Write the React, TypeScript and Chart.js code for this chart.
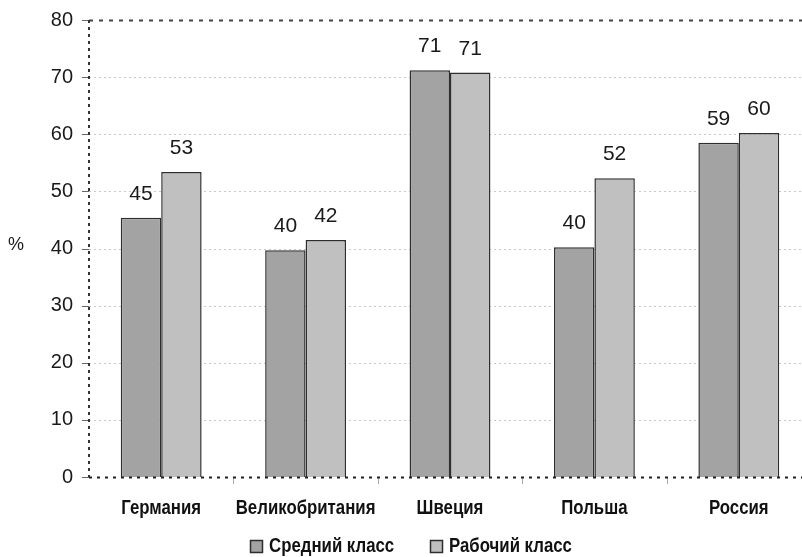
import React, { useEffect, useRef } from 'react';
import { Chart, registerables } from 'chart.js';

Chart.register(...registerables);

const categories = ['Германия', 'Великобритания', 'Швеция', 'Польша', 'Россия'];
const seriesNames = ['Средний класс', 'Рабочий класс'];
const middleClass = [45.4, 39.7, 71.2, 40.2, 58.5];
const workingClass = [53.4, 41.5, 70.8, 52.3, 60.2];
const yMin = 0;
const yMax = 80;
const yStep = 10;
const yAxisTitle = '%';

const DARK = '#a3a3a3';
const LIGHT = '#c0c0c0';
const EDGE = '#2e2e2e';
const SANS = "'Liberation Sans', Arial, sans-serif";
const CONDENSE = 0.8;

function drawCondensed(ctx: any, text: string, x: number, y: number, align: 'left' | 'center') {
  ctx.save();
  ctx.translate(x, y);
  ctx.scale(CONDENSE, 1);
  ctx.textAlign = align;
  ctx.fillText(text, 0, 0);
  ctx.restore();
}

const decorPlugin = {
  id: 'decor',
  beforeDatasetsDraw(chart: any) {
    const { ctx, chartArea } = chart;
    const y = chart.scales.y;
    const x = chart.scales.x;
    ctx.save();
    ctx.lineWidth = 1;
    ctx.strokeStyle = '#c9c9c9';
    ctx.setLineDash([2, 3]);
    for (let v = yMin + yStep; v < yMax; v += yStep) {
      const py = Math.round(y.getPixelForValue(v)) + 0.5;
      ctx.beginPath();
      ctx.moveTo(chartArea.left, py);
      ctx.lineTo(chartArea.right, py);
      ctx.stroke();
    }
    ctx.setLineDash([]);
    ctx.strokeStyle = '#666';
    ctx.lineWidth = 1;
    for (let v = yMin; v <= yMax; v += yStep) {
      const py = Math.round(y.getPixelForValue(v)) + 0.5;
      ctx.beginPath();
      ctx.moveTo(chartArea.left - 7, py);
      ctx.lineTo(chartArea.left, py);
      ctx.stroke();
    }
    ctx.strokeStyle = '#aaa';
    for (let i = 1; i < categories.length; i++) {
      const px = Math.round((x.getPixelForValue(i - 1) + x.getPixelForValue(i)) / 2) + 0.5;
      ctx.beginPath();
      ctx.moveTo(px, chartArea.bottom);
      ctx.lineTo(px, chartArea.bottom + 7);
      ctx.stroke();
    }
    const top = Math.round(y.getPixelForValue(yMax)) + 0.5;
    ctx.strokeStyle = '#444';
    ctx.lineWidth = 2;
    ctx.setLineDash([4, 6]);
    ctx.beginPath();
    ctx.moveTo(chartArea.left, top);
    ctx.lineTo(chartArea.right, top);
    ctx.stroke();
    ctx.setLineDash([3, 4]);
    ctx.strokeStyle = '#333';
    ctx.beginPath();
    ctx.moveTo(chartArea.left, chartArea.top);
    ctx.lineTo(chartArea.left, chartArea.bottom);
    ctx.stroke();
    ctx.restore();
  },
  afterDatasetsDraw(chart: any) {
    const { ctx, chartArea } = chart;
    const y = chart.scales.y;
    const x = chart.scales.x;
    ctx.save();
    const bottom = Math.round(y.getPixelForValue(yMin)) + 0.5;
    ctx.strokeStyle = '#222';
    ctx.lineWidth = 2;
    ctx.setLineDash([3, 5]);
    ctx.beginPath();
    ctx.moveTo(chartArea.left, bottom);
    ctx.lineTo(chartArea.right, bottom);
    ctx.stroke();
    ctx.setLineDash([]);
    // value labels
    ctx.fillStyle = '#1a1a1a';
    ctx.font = `21px ${SANS}`;
    ctx.textAlign = 'center';
    ctx.textBaseline = 'alphabetic';
    chart.data.datasets.forEach((ds: any, di: number) => {
      const meta = chart.getDatasetMeta(di);
      meta.data.forEach((bar: any, i: number) => {
        ctx.fillText(String(Math.round(ds.data[i])), bar.x, bar.y - 18);
      });
    });
    // category labels (condensed bold)
    ctx.fillStyle = '#111';
    ctx.font = `bold 21px ${SANS}`;
    ctx.textBaseline = 'middle';
    categories.forEach((c, i) => {
      drawCondensed(ctx, c, x.getPixelForValue(i), 508, 'center');
    });
    // y axis title
    ctx.fillStyle = '#1a1a1a';
    ctx.font = `18px ${SANS}`;
    ctx.textAlign = 'left';
    ctx.textBaseline = 'middle';
    ctx.fillText(yAxisTitle, 8, 245);
    // legend
    const colors = [DARK, LIGHT];
    const starts = [250, 430];
    ctx.font = `bold 21px ${SANS}`;
    ctx.textBaseline = 'middle';
    seriesNames.forEach((name, i) => {
      const bx = starts[i];
      const cy = 546;
      ctx.fillStyle = colors[i];
      ctx.fillRect(bx + 0.5, cy - 6 + 0.5, 12, 12);
      ctx.strokeStyle = EDGE;
      ctx.lineWidth = 1.5;
      ctx.strokeRect(bx + 0.5, cy - 6 + 0.5, 12, 12);
      ctx.fillStyle = '#111';
      drawCondensed(ctx, name, bx + 19, cy, 'left');
    });
    ctx.restore();
  },
};

export default function App() {
  const ref = useRef<HTMLCanvasElement | null>(null);
  useEffect(() => {
    if (!ref.current) return;
    const chart = new Chart(ref.current, {
      type: 'bar',
      data: {
        labels: categories,
        datasets: [
          {
            label: seriesNames[0],
            data: middleClass,
            backgroundColor: DARK,
            borderColor: EDGE,
            borderWidth: 1.5,
            categoryPercentage: 0.56,
            barPercentage: 1,
          },
          {
            label: seriesNames[1],
            data: workingClass,
            backgroundColor: LIGHT,
            borderColor: EDGE,
            borderWidth: 1.5,
            categoryPercentage: 0.56,
            barPercentage: 1,
          },
        ],
      },
      options: {
        animation: false,
        responsive: false,
        maintainAspectRatio: false,
        layout: { padding: { top: 20, right: 0, bottom: 0, left: 0 } },
        plugins: {
          legend: { display: false },
          tooltip: { enabled: false },
        },
        scales: {
          x: {
            grid: { display: false, drawTicks: false },
            border: { display: false },
            ticks: { display: false },
            afterFit: (s: any) => { s.height = 80; s.paddingLeft = 0; s.paddingRight = 0; },
          },
          y: {
            min: yMin,
            max: yMax,
            grid: { display: false, drawTicks: false },
            border: { display: false },
            ticks: {
              stepSize: yStep,
              color: '#1a1a1a',
              font: { family: SANS, size: 20 },
              padding: 16,
            },
            afterFit: (s: any) => { s.width = 89; s.paddingTop = 0; s.paddingBottom = 0; },
          },
        },
      },
      plugins: [decorPlugin],
    });
    return () => chart.destroy();
  }, []);
  return (
    <div style={{ position: 'fixed', left: 0, top: 0, width: 802, height: 557, overflow: 'hidden', background: '#fff' }}>
      <canvas ref={ref} width={811} height={557} style={{ display: 'block', width: 811, height: 557 }} />
    </div>
  );
}
